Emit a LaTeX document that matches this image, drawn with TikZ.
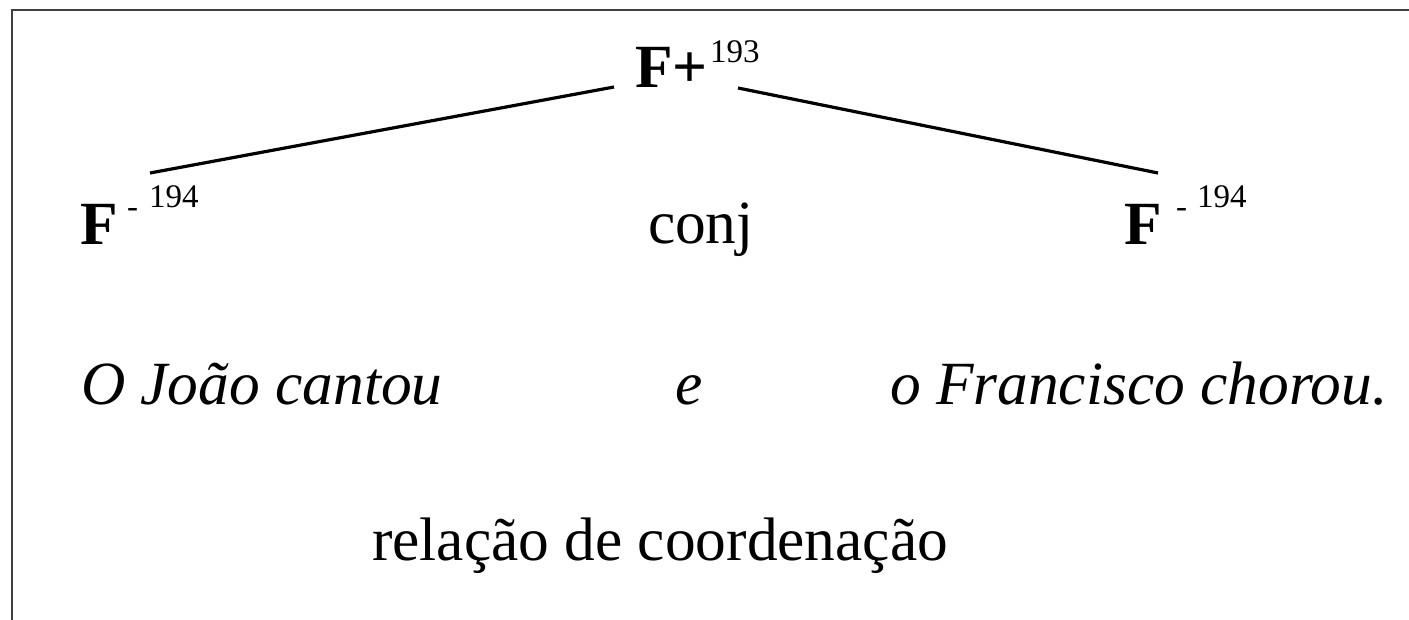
\documentclass[tikz,border=0pt]{standalone}
\usepackage{fontspec}
\setmainfont{Liberation Serif}
\begin{document}
\begin{tikzpicture}[x=0.5pt,y=-0.5pt,
  txt/.style={inner sep=0pt,outer sep=0pt,anchor=base west,font=\fontsize{30.7}{36}\selectfont},
  sup/.style={inner sep=0pt,outer sep=0pt,anchor=base west,font=\fontsize{16.5}{19}\selectfont},
  branch/.style={line width=1.6pt,black},
  frame/.style={line width=1pt,black!75}]
\useasboundingbox (0,0) rectangle (1409,620);
\draw[frame] (12,620) -- (12,10) -- (1409,10);
% top node
\node[txt] (top) at (635,88) {\textbf{F+}};
\node[sup] (topsup) at (710,63) {193};
% level 2
\node[txt] (fl) at (80,245) {\textbf{F}};
\node[sup] (flh) at (127,218) {-};
\node[sup] (flsup) at (149,208) {194};
\node[txt] (conj) at (648,244) {conj};
\node[txt] (fr) at (1124,245) {\textbf{F}};
\node[sup] (frh) at (1176,218) {-};
\node[sup] (frsup) at (1197,208) {194};
% sentence
\node[txt] (s1) at (81,405) {\itshape O João cantou};
\node[txt] (s2) at (675,405) {\itshape e};
\node[txt] (s3) at (890,405) {\itshape o Francisco chorou.};
\node[txt] (rel) at (372,560) {relação de coordenação};
% connectors
\coordinate (tl) at (614,87);
\coordinate (tr) at (738,88);
\coordinate (bl) at (150,173);
\coordinate (br) at (1158,173);
\draw[branch] (tl) -- (bl);
\draw[branch] (tr) -- (br);
\end{tikzpicture}
\end{document}
